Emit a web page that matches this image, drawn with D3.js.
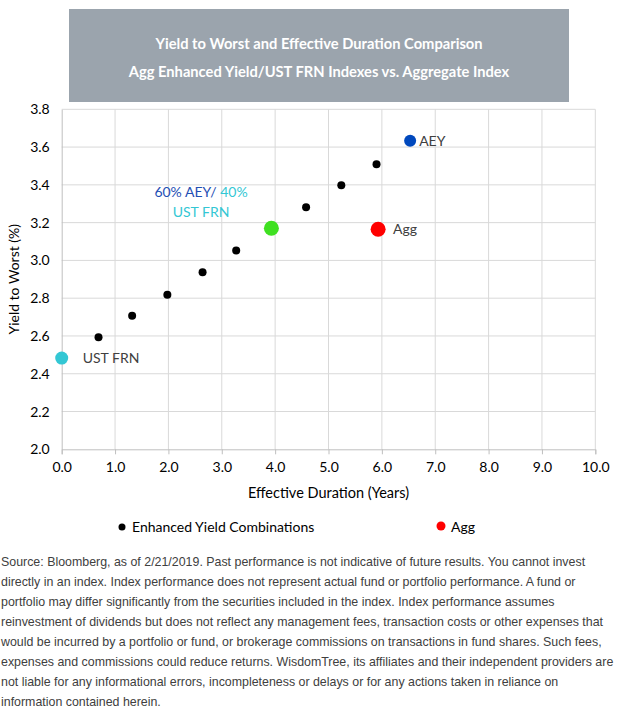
<!DOCTYPE html>
<html>
<head>
<meta charset="utf-8">
<script src="https://cdn.jsdelivr.net/npm/d3@7"></script>
<style>
  body { margin: 0; background: #fff; }
  svg text { font-family: Lato, "Open Sans", sans-serif; }
</style>
</head>
<body>
<div id="chart"></div>
<script>
// combinations of AEY / UST FRN (10% steps, 60% is highlighted separately)
var comboDuration = [0.69, 1.32, 1.98, 2.64, 3.27, 4.58, 5.24, 5.90];
var comboYield = [2.593, 2.707, 2.818, 2.937, 3.053, 3.281, 3.398, 3.509];

var indexNames = ["UST FRN", "60/40", "AEY", "Agg"];
var indexDuration = [0.0, 3.93, 6.53, 5.93];
var indexYield = [2.483, 3.17, 3.634, 3.165];

var xTicks = [0, 1, 2, 3, 4, 5, 6, 7, 8, 9, 10];
var yTicks = [2.0, 2.2, 2.4, 2.6, 2.8, 3.0, 3.2, 3.4, 3.6, 3.8];

var titleLines = [
  "Yield to Worst and Effective Duration Comparison",
  "Agg Enhanced Yield/UST FRN Indexes vs. Aggregate Index"
];
var legendNames = ["Enhanced Yield Combinations", "Agg"];
var footLines = [
  "Source: Bloomberg, as of 2/21/2019. Past performance is not indicative of future results. You cannot invest",
  "directly in an index. Index performance does not represent actual fund or portfolio performance. A fund or",
  "portfolio may differ significantly from the securities included in the index. Index performance assumes",
  "reinvestment of dividends but does not reflect any management fees, transaction costs or other expenses that",
  "would be incurred by a portfolio or fund, or brokerage commissions on transactions in fund shares. Such fees,",
  "expenses and commissions could reduce returns. WisdomTree, its affiliates and their independent providers are",
  "not liable for any informational errors, incompleteness or delays or for any actions taken in reliance on",
  "information contained herein."
];

var width = 621, height = 716;
var svg = d3.select("#chart").append("svg")
  .attr("width", width)
  .attr("height", height);

// title box
svg.append("rect")
  .attr("x", 69).attr("y", 9)
  .attr("width", 500).attr("height", 93)
  .attr("fill", "#9ba4ad");
svg.selectAll(".title")
  .data(titleLines)
  .enter().append("text")
  .attr("class", "title")
  .attr("x", 319)
  .attr("y", function (d, i) { return 49 + i * 28; })
  .attr("text-anchor", "middle")
  .attr("fill", "#fff")
  .style("font-size", "14.7px")
  .style("font-weight", "bold")
  .text(function (d) { return d; });

var plot = {left: 61.7, right: 595.3, top: 109.3, bottom: 449.3};
var x = d3.scaleLinear().domain([0, 10]).range([plot.left, plot.right]);
var y = d3.scaleLinear().domain([2.0, 3.8]).range([plot.bottom, plot.top]);

// grid
svg.append("g").selectAll("line")
  .data(xTicks.slice(1))
  .enter().append("line")
  .attr("x1", function (d) { return x(d); }).attr("x2", function (d) { return x(d); })
  .attr("y1", plot.top).attr("y2", plot.bottom)
  .attr("stroke", "#d9d9d9").attr("stroke-width", 1);
svg.append("g").selectAll("line")
  .data(yTicks.slice(1))
  .enter().append("line")
  .attr("x1", plot.left).attr("x2", plot.right)
  .attr("y1", function (d) { return y(d); }).attr("y2", function (d) { return y(d); })
  .attr("stroke", "#d9d9d9").attr("stroke-width", 1);

// axes
var xAxis = svg.append("g")
  .attr("transform", "translate(0," + plot.bottom + ")")
  .call(d3.axisBottom(x).tickValues(xTicks).tickSize(5).tickPadding(8)
    .tickFormat(d3.format(".1f")));
var yAxis = svg.append("g")
  .attr("transform", "translate(" + plot.left + ",0)")
  .call(d3.axisLeft(y).tickValues(yTicks).tickSize(0).tickPadding(12)
    .tickFormat(d3.format(".1f")));
[xAxis, yAxis].forEach(function (a) {
  a.select(".domain").attr("stroke", "#bfbfbf");
  a.selectAll(".tick line").attr("stroke", "#bfbfbf");
  a.selectAll("text")
    .attr("fill", "#000")
    .style("font-size", "14px")
    .style("font-family", "Lato, sans-serif");
});

svg.append("text")
  .attr("x", (plot.left + plot.right) / 2).attr("y", 498)
  .attr("text-anchor", "middle")
  .style("font-size", "14.5px")
  .text("Effective Duration (Years)");
svg.append("text")
  .attr("transform", "translate(19," + (plot.top + plot.bottom) / 2 + ") rotate(-90)")
  .attr("text-anchor", "middle")
  .style("font-size", "14px")
  .text("Yield to Worst (%)");

// combination dots
svg.append("g").selectAll("circle")
  .data(comboDuration)
  .enter().append("circle")
  .attr("cx", function (d) { return x(d); })
  .attr("cy", function (d, i) { return y(comboYield[i]); })
  .attr("r", 4)
  .attr("fill", "#000");

// index points
var indexColors = ["#33c7d4", "#3fe021", "#0048bd", "#ff0000"];
var indexRadius = [6.5, 7.5, 6, 7.5];
svg.append("g").selectAll("circle")
  .data(indexNames)
  .enter().append("circle")
  .attr("cx", function (d, i) { return x(indexDuration[i]); })
  .attr("cy", function (d, i) { return y(indexYield[i]); })
  .attr("r", function (d, i) { return indexRadius[i]; })
  .attr("fill", function (d, i) { return indexColors[i]; });

// point labels
function label(i, dx, txt) {
  svg.append("text")
    .attr("x", x(indexDuration[i]) + dx)
    .attr("y", y(indexYield[i]) + 5)
    .attr("fill", "#404040")
    .style("font-size", "14px")
    .text(txt);
}
label(0, 21, "UST FRN");
label(2, 9, "AEY");
label(3, 15, "Agg");

var mix = svg.append("text")
  .attr("x", 201).attr("y", 197)
  .attr("text-anchor", "middle")
  .style("font-size", "14px");
mix.append("tspan").attr("fill", "#1f4fb4").text("60% AEY/ ");
mix.append("tspan").attr("fill", "#33c7d4").text("40%");
svg.append("text")
  .attr("x", 201).attr("y", 217)
  .attr("text-anchor", "middle")
  .attr("fill", "#33c7d4")
  .style("font-size", "14px")
  .text("UST FRN");

// legend
var legend = svg.append("g");
legend.append("circle").attr("cx", 122).attr("cy", 527).attr("r", 3.5).attr("fill", "#000");
legend.append("text").attr("x", 132).attr("y", 532).style("font-size", "14px").text(legendNames[0]);
legend.append("circle").attr("cx", 441).attr("cy", 526).attr("r", 4.5).attr("fill", "#ff0000");
legend.append("text").attr("x", 451).attr("y", 532).style("font-size", "14px").text(legendNames[1]);

// footnote
svg.selectAll(".foot")
  .data(footLines)
  .enter().append("text")
  .attr("class", "foot")
  .attr("x", 1)
  .attr("y", function (d, i) { return 566 + i * 20; })
  .attr("fill", "#404040")
  .style("font-family", "'Liberation Sans', Arial, sans-serif")
  .style("font-size", "12.4px")
  .text(function (d) { return d; });
</script>
</body>
</html>
